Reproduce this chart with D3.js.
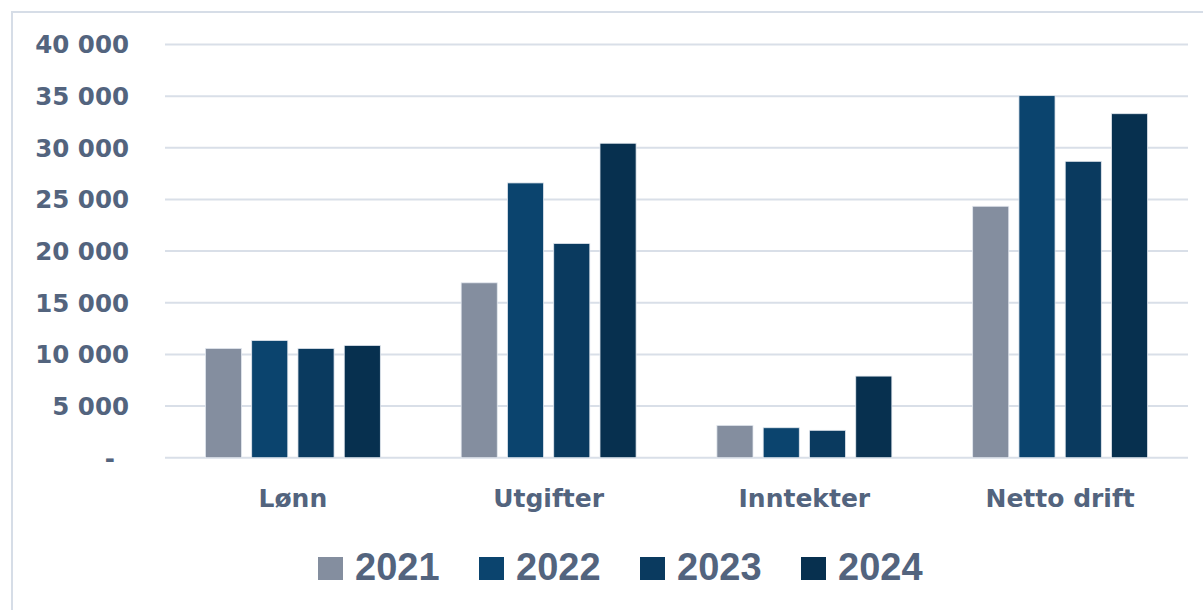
<!DOCTYPE html>
<html>
<head>
<meta charset="utf-8">
<script src="https://cdn.jsdelivr.net/npm/d3@7"></script>
<style>
  html, body { margin: 0; padding: 0; background: #ffffff; }
  svg { display: block; }
</style>
</head>
<body>
<svg id="chart" width="1203" height="610"></svg>
<script>
const categories = ["Lønn", "Utgifter", "Inntekter", "Netto drift"];
const years = ["2021", "2022", "2023", "2024"];
const values2021 = [10580, 16930, 3130, 24340];
const values2022 = [11350, 26600, 2900, 35050];
const values2023 = [10580, 20740, 2650, 28690];
const values2024 = [10870, 30440, 7900, 33300];
const yTicks = [0, 5000, 10000, 15000, 20000, 25000, 30000, 35000, 40000];
const colors = ["#848e9f", "#0b446e", "#0a3a5f", "#07304f"];

const series = [values2021, values2022, values2023, values2024];
const textColor = "#53647e";

const svg = d3.select("#chart");

// outer frame
svg.append("rect")
  .attr("x", 12).attr("y", 12)
  .attr("width", 1230).attr("height", 640)
  .attr("fill", "none")
  .attr("stroke", "#d6dde7")
  .attr("stroke-width", 2);

const y = d3.scaleLinear().domain([0, 40000]).range([457.7, 44.5]);
const x0 = d3.scaleBand().domain(categories).range([165, 1188])
  .paddingInner(0.316).paddingOuter(0.158);
const x1 = d3.scaleBand().domain(years).range([0, x0.bandwidth()])
  .paddingInner(0.22).paddingOuter(0);

// gridlines
svg.append("g").selectAll("line").data(yTicks).join("line")
  .attr("x1", 165).attr("x2", 1188)
  .attr("y1", d => y(d)).attr("y2", d => y(d))
  .attr("stroke", "#d9dfe8")
  .attr("stroke-width", 2);

// y labels
const fmt = d => d === 0 ? "-" : d3.format(",")(d).replace(/,/g, " ");
svg.append("g").selectAll("text").data(yTicks).join("text")
  .attr("x", d => d === 0 ? 115 : 129)
  .attr("y", d => y(d))
  .attr("dy", "0.36em")
  .attr("text-anchor", "end")
  .attr("font-family", "DejaVu Sans, sans-serif")
  .attr("font-weight", "bold")
  .attr("font-size", 24.5)
  .attr("fill", textColor)
  .text(fmt);

// bars
const groups = svg.append("g").selectAll("g").data(categories).join("g")
  .attr("transform", d => `translate(${x0(d)},0)`);

groups.selectAll("rect")
  .data((c, ci) => years.map((yr, si) => ({ yr, si, v: series[si][ci] })))
  .join("rect")
  .attr("x", d => x1(d.yr))
  .attr("width", x1.bandwidth())
  .attr("y", d => y(d.v))
  .attr("height", d => y(0) - y(d.v))
  .attr("fill", d => colors[d.si])
  .attr("stroke", "#e3e8ef")
  .attr("stroke-width", 0.8);

// category labels
svg.append("g").selectAll("text").data(categories).join("text")
  .attr("x", d => x0(d) + x0.bandwidth() / 2)
  .attr("y", 507)
  .attr("text-anchor", "middle")
  .attr("font-family", "DejaVu Sans, sans-serif")
  .attr("font-weight", "bold")
  .attr("font-size", 25)
  .attr("fill", textColor)
  .text(d => d);

// legend
const legendX = d3.scaleBand().domain(years).range([318, 962]);
const leg = svg.append("g").selectAll("g").data(years).join("g")
  .attr("transform", d => `translate(${legendX(d)},0)`);
leg.append("rect")
  .attr("x", 0).attr("y", 557)
  .attr("width", 25).attr("height", 23)
  .attr("fill", (d, i) => colors[i]);
leg.append("text")
  .attr("x", 37).attr("y", 580)
  .attr("font-family", "Liberation Sans, Arial, sans-serif")
  .attr("font-weight", "bold")
  .attr("font-size", 38)
  .attr("fill", textColor)
  .text(d => d);
</script>
</body>
</html>
